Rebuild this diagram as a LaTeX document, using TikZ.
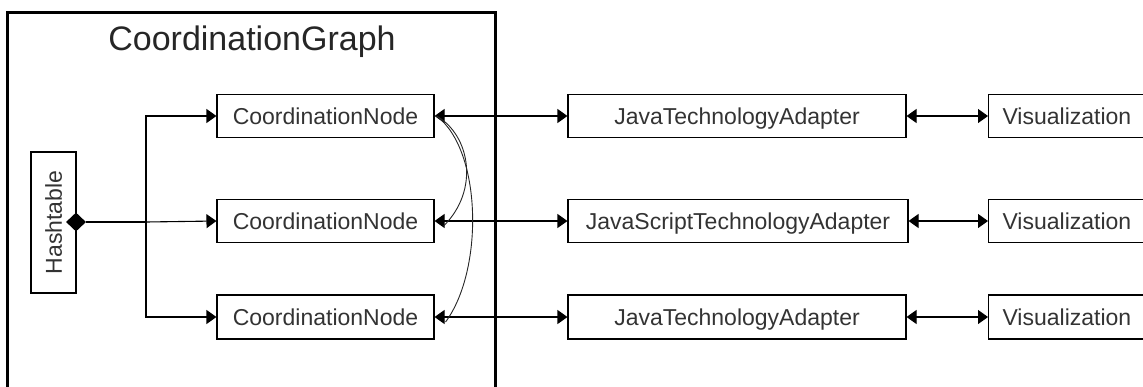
\documentclass[tikz,border=0pt]{standalone}
\usepackage{fontspec}
\setmainfont{Liberation Sans}
\usetikzlibrary{arrows.meta,shapes.geometric}
\tikzset{
  cls/.style={draw, line width=1.1pt, rectangle, inner sep=0pt, text=black!80,
    text height=16.5pt, text depth=0pt, font=\fontsize{23}{26}\selectfont},
  link/.style={line width=1.1pt},
  tip/.style={-{Triangle[length=10pt,width=14pt]}},
  both/.style={{Triangle[length=10pt,width=14pt]}-{Triangle[length=10pt,width=14pt]}},
  curve/.style={line width=0.9pt, black!85},
}
\begin{document}
\begin{tikzpicture}[x=1pt,y=-1pt]
\useasboundingbox (0,0) rectangle (1143,386);
% enclosing graph frame
\draw[line width=3pt] (7.5,420) -- (7.5,12) -- (495.5,12) -- (495.5,420);
\node[text=black!85] (title) at (252,42) {\fontsize{34}{38}\selectfont CoordinationGraph};
% hashtable and aggregation diamond
\node[cls, minimum width=45pt, minimum height=141pt] (hash) at (53.5,222.5) {};
\node[rotate=90, text=black!80, text height=16.5pt, text depth=0pt, inner sep=0pt,
  font=\fontsize{23}{26}\selectfont] (hashtxt) at (hash.center) {Hashtable};
\node[diamond, fill=black, inner sep=0pt, minimum width=20pt, minimum height=19pt] (dia) at (76,222) {};
% coordination nodes
\node[cls, minimum width=217pt, minimum height=43pt] (cn1) at (325.5,116) {CoordinationNode};
\node[cls, minimum width=217pt, minimum height=43pt] (cn2) at (325.5,221) {CoordinationNode};
\node[cls, minimum width=217pt, minimum height=44pt] (cn3) at (325.5,317) {CoordinationNode};
% technology adapters
\node[cls, minimum width=338pt, minimum height=43pt] (ad1) at (737,116) {JavaTechnologyAdapter};
\node[cls, minimum width=340pt, minimum height=43pt] (ad2) at (738,221) {JavaScriptTechnologyAdapter};
\node[cls, minimum width=338pt, minimum height=44pt] (ad3) at (737,317) {JavaTechnologyAdapter};
% visualizations
\foreach \i/\y/\h in {1/116/43,2/221/43,3/317/44}{
  \node[cls, anchor=west, minimum height=\h pt, text width=150pt, inner xsep=14pt, align=left] (vis\i) at (988,\y) {Visualization};
}
% hashtable fan-out
\coordinate (j) at (146,222);
\draw[link] (dia.east) -- (j);
\draw[link, tip] (j) |- (cn1.west);
\draw[link, tip] (j) -- (cn2.west);
\draw[link, tip] (j) |- (cn3.west);
% node to adapter to visualization
\foreach \i in {1,2,3}{
  \draw[link, both] (cn\i.east) -- (ad\i.west);
  \draw[link, both] (ad\i.east) -- (vis\i.west);
}
% links between coordination nodes
\draw[curve] ([xshift=2pt]cn1.east) .. controls (470,135) and (480,190) .. ([xshift=9pt,yshift=-5pt]cn2.east);
\draw[curve] ([xshift=2pt]cn1.east) .. controls (482,150) and (484,270) .. ([xshift=11pt,yshift=-5pt]cn3.east);
\end{tikzpicture}
\end{document}
